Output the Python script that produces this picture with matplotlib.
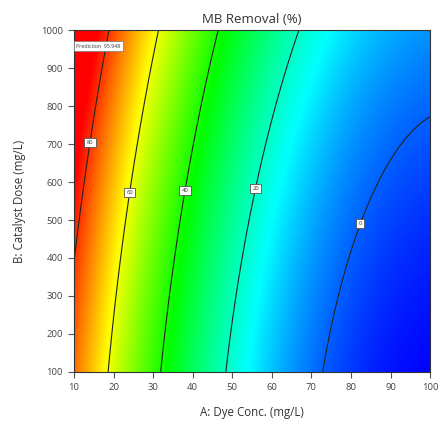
import numpy as np
import matplotlib
matplotlib.use("Agg")
import matplotlib.pyplot as plt
from matplotlib.colors import LinearSegmentedColormap

plt.rcParams["font.family"] = ["Open Sans", "DejaVu Sans"]

# Quadratic response-surface model: MB removal (%) vs dye conc. (A) and catalyst dose (B)
# y = b0 + bA*A + bB*B + bAB*A*B + bAA*A^2 + bBB*B^2
b0 = 92.24395
bA = -1.986142
bB = 1.448928e-02
bAB = -9.597311e-05
bAA = 9.723103e-03
bBB = 8.986411e-06

dye_range = [10, 100]
dose_range = [100, 1000]
contour_levels = [0, 20, 40, 60, 80]
label_spots = [(82.3, 491), (56, 583), (38, 578), (24.2, 572), (14, 704)]
prediction_point = (10, 1000)
prediction_value = 95.948

x_ticks = [10, 20, 30, 40, 50, 60, 70, 80, 90, 100]
y_ticks = [100, 200, 300, 400, 500, 600, 700, 800, 900, 1000]


def removal(a, b):
    return b0 + bA*a + bB*b + bAB*a*b + bAA*a**2 + bBB*b**2


fig = plt.figure(figsize=(4.38, 4.25), dpi=100)
ax = fig.add_axes([0.169, 0.125, 0.813, 0.804])

a = np.linspace(*dye_range, 400)
b = np.linspace(*dose_range, 400)
AA, BB = np.meshgrid(a, b)
Z = removal(AA, BB)

cmap = LinearSegmentedColormap.from_list(
    "rainbow5", ["#0000ff", "#00ffff", "#00ff00", "#ffff00", "#ff0000"])
ax.imshow(Z, origin="lower", extent=dye_range + dose_range, aspect="auto",
          cmap=cmap, vmin=-9, vmax=85, interpolation="bilinear")
cs = ax.contour(AA, BB, Z, levels=contour_levels, colors="#222222", linewidths=0.8)
labels = ax.clabel(cs, inline=False, fmt="%d", fontsize=4.2, colors="#333333",
                   manual=label_spots)
for t in labels:
    t.set_rotation(0)
    t.set_bbox(dict(boxstyle="square,pad=0.4", fc="white", ec="#555555", lw=0.6))

ax.text(prediction_point[0] + 0.6, prediction_point[1] - 42,
        f"Prediction  {prediction_value:.3f}", fontsize=3.8, color="#333333",
        ha="left", va="center",
        bbox=dict(boxstyle="square,pad=0.45", fc="white", ec="#777777", lw=0.5))

ax.set_xlim(*dye_range)
ax.set_ylim(*dose_range)
ax.set_xticks(x_ticks)
ax.set_yticks(y_ticks)
ax.tick_params(axis="both", direction="out", length=4, width=0.8, color="#555555",
               labelsize=6.8, labelcolor="#444444", pad=4)
for s in ax.spines.values():
    s.set_color("#333333")
    s.set_linewidth(0.8)

ax.set_title("MB Removal (%)", fontsize=9.5, color="#333333", pad=5)
ax.set_xlabel("A: Dye Conc. (mg/L)", fontsize=8.3, color="#333333", labelpad=10)
ax.set_ylabel("B: Catalyst Dose (mg/L)", fontsize=8.3, color="#333333", labelpad=11)

fig.savefig("out.png")
